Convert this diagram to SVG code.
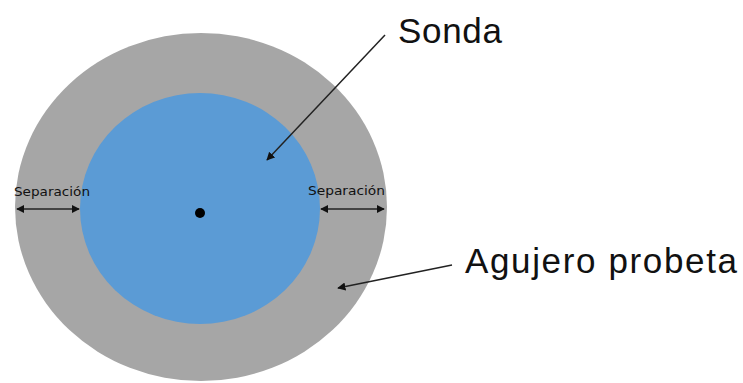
<svg xmlns="http://www.w3.org/2000/svg" width="743" height="383" viewBox="0 0 743 383">
<style>
.lbl{font-family:"Liberation Sans",Arial,sans-serif;fill:#111}
.big{font-size:35px}
.small{font-family:"DejaVu Sans",Verdana,sans-serif;font-size:12.5px}
.ln{stroke:#222;stroke-width:1.5;fill:none}
</style>
<defs>
<marker id="ah" viewBox="0 0 10 10" refX="9" refY="5" markerWidth="5.5" markerHeight="5.5" orient="auto-start-reverse" markerUnits="strokeWidth">
<path d="M0,0 L10,5 L0,10 Z" fill="#111"/>
</marker>
</defs>
<rect width="743" height="383" fill="#fff"/>
<g id="agujero">
<ellipse cx="201" cy="207" rx="186" ry="174" fill="#a6a6a6"/>
</g>
<g id="sonda">
<ellipse cx="200" cy="208.5" rx="120" ry="115.5" fill="#5b9bd5"/>
<circle cx="200" cy="213" r="5" fill="#000"/>
</g>
<g id="sep-left">
<text class="lbl small" x="14" y="196" textLength="76" lengthAdjust="spacingAndGlyphs">Separación</text>
</g>
<g id="sep-right">
<text class="lbl small" x="308" y="195" textLength="77" lengthAdjust="spacingAndGlyphs">Separación</text>
</g>
<g id="label-sonda">
<text class="lbl big" x="398" y="43" textLength="104">Sonda</text>
</g>
<g id="label-agujero">
<text class="lbl big" x="465" y="273" textLength="272">Agujero probeta</text>
</g>
<g id="connectors">
<line class="ln" x1="17" y1="209" x2="79" y2="209" marker-start="url(#ah)" marker-end="url(#ah)"/>
<line class="ln" x1="321" y1="209" x2="384" y2="209" marker-start="url(#ah)" marker-end="url(#ah)"/>
<line class="ln" x1="385" y1="35" x2="267" y2="160" marker-end="url(#ah)" stroke="#333"/>
<line class="ln" x1="452" y1="265" x2="338" y2="288" marker-end="url(#ah)" stroke="#333"/>
</g>
</svg>
